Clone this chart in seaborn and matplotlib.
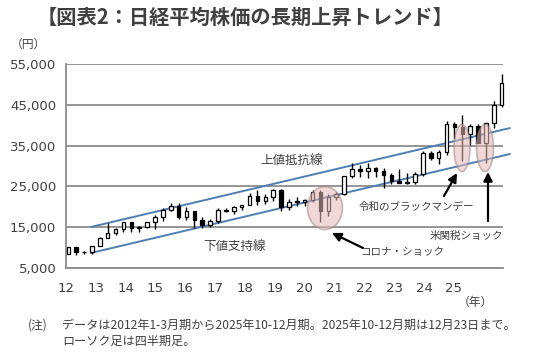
import matplotlib
matplotlib.use("Agg")
import matplotlib.pyplot as plt
from matplotlib.patches import Ellipse
import numpy as np
import pandas as pd
import seaborn as sns

# ---- data: quarterly Nikkei 225 candles, 2012Q1 .. 2025Q4 ----
quarters = [f"{y}Q{q}" for y in range(2012, 2026) for q in range(1, 5)]
opens = [8550, 10083, 9007, 8870, 10395, 12398, 13677, 14455,
         16291, 14828, 15162, 16174, 17451, 19207, 20236, 17388,
         19034, 16759, 15576, 16450, 19114, 18909, 20033, 20356,
         22765, 21454, 22305, 24120, 20015, 21206, 21276, 21756,
         23657, 18917, 22288, 23185, 27444, 29179, 28792, 29453,
         28792, 27821, 26393, 25937, 26095, 28041, 33189, 31858,
         33464, 40369, 39583, 37919, 39894, 35617, 40487, 44932]
highs = [10255, 10190, 9288, 10433, 12650, 15942, 14817, 16320,
         16320, 15376, 16374, 18030, 19778, 20952, 20946, 20012,
         19034, 17613, 17100, 19592, 19668, 20318, 20481, 23382,
         24129, 23050, 24448, 24448, 21860, 22362, 21823, 24091,
         24116, 23179, 23559, 27602, 30714, 30208, 30795, 29808,
         29388, 28338, 29222, 28383, 28623, 33772, 33753, 33853,
         41087, 40697, 42426, 40398, 40288, 40487, 45852, 52636]
lows = [8350, 8238, 8328, 8488, 10398, 12415, 13188, 13748,
        13885, 13885, 14720, 14529, 16592, 19034, 16901, 16884,
        14866, 14864, 14952, 16111, 18650, 18224, 19239, 20397,
        20347, 20617, 21462, 18948, 19241, 20110, 20110, 21276,
        16358, 17646, 21710, 22948, 27002, 27385, 26954, 27293,
        24681, 25520, 25935, 25621, 25661, 27427, 31450, 30487,
        32693, 36733, 31156, 35247, 35617, 30793, 39384, 44372]
closes = [10083, 9007, 8870, 10395, 12398, 13677, 14455, 16291,
          14828, 15162, 16174, 17451, 19207, 20236, 17388, 19034,
          16759, 15576, 16450, 19114, 18909, 20033, 20356, 22765,
          21454, 22305, 24120, 20015, 21206, 21276, 21756, 23657,
          18917, 22288, 23185, 27444, 29179, 28792, 29453, 28792,
          27821, 26393, 25937, 26095, 28041, 33189, 31858, 33464,
          40369, 39583, 37919, 39894, 35617, 40487, 44932, 50412]

year_labels = ["12", "13", "14", "15", "16", "17", "18", "19", "20",
               "21", "22", "23", "24", "25"]
y_ticks = [5000, 15000, 25000, 35000, 45000, 55000]

# trend channel lines (quarter index, price)
upper_line_x = [2.87, 56.04]
upper_line_y = [15050, 39300]
lower_line_x = [2.87, 56.04]
lower_line_y = [8680, 32940]

df = pd.DataFrame({"q": quarters, "open": opens, "high": highs,
                   "low": lows, "close": closes})
df["i"] = np.arange(len(df))

# ---- style ----
sns.set_theme(style="white")
plt.rcParams["font.family"] = ["DejaVu Sans", "Noto Sans CJK JP"]
JP = ["Noto Sans CJK JP", "DejaVu Sans"]
TXT = "#404040"
GRID = "#8c8c8c"

W, H = 550, 356
fig = plt.figure(figsize=(W / 100, H / 100), dpi=100)
fig.patch.set_facecolor("white")
ax_l, ax_r, ax_t, ax_b = 66, 503, 64, 268
ax = fig.add_axes([ax_l / W, 1 - ax_b / H, (ax_r - ax_l) / W, (ax_b - ax_t) / H])

pxu = (501.7 - 67.3) / 55.0
x0 = -(67.3 - ax_l) / pxu
x1 = 55 + (ax_r - 501.7) / pxu
ax.set_xlim(x0, x1)
ax.set_ylim(5000, 55000)

# grid
for yv in y_ticks:
    ax.axhline(yv, color=GRID, lw=1.3, zorder=0)

# trend lines via seaborn
tl = pd.DataFrame({"x": upper_line_x + lower_line_x,
                   "y": upper_line_y + lower_line_y,
                   "line": ["up", "up", "low", "low"]})
sns.lineplot(data=tl, x="x", y="y", units="line", estimator=None,
             color="#4f7eb3", lw=1.4, ax=ax, zorder=3, clip_on=False, legend=False)

# candles
bw = 0.45
for _, r in df.iterrows():
    up = r["close"] >= r["open"]
    ax.vlines(r["i"], r["low"], r["high"], color="black", lw=1.0, zorder=4, clip_on=False)
    bottom = min(r["open"], r["close"])
    h = max(abs(r["close"] - r["open"]), 150)
    ax.bar(r["i"], h, bottom=bottom, width=bw,
           color="white" if up else "black", edgecolor="black",
           linewidth=0.9, zorder=5, clip_on=False)

# ellipses (figure pixel coordinates)
def fpx(px, py):
    return (px, H - py)

for (cx, cy, ew, eh) in [(325, 208, 35, 43), (462, 148, 16, 47), (485, 148, 17, 47)]:
    e = Ellipse(fpx(cx, cy), ew, eh, transform=None,
                facecolor="#e3b9b6", edgecolor="#a08482", alpha=0.55, lw=1.2, zorder=6)
    fig.patches.append(e)

# axes styling
ax.set_yticks(y_ticks)
ax.set_yticklabels([f"{v:,}" for v in y_ticks], fontsize=9.5, color=TXT)
label_pos = [(65 + 29.9 * k - 67.3) / pxu for k in range(len(year_labels))]
ax.set_xticks(label_pos)
ax.set_xticklabels(year_labels, fontsize=9.5, color=TXT)
ax.tick_params(axis="x", which="major", length=0, pad=10)
ax.set_xticks([4 * k - 0.1 for k in range(1, 14)], minor=True)
ax.tick_params(axis="x", which="minor", length=4, width=1, color=GRID, direction="out")
ax.tick_params(axis="y", length=3, width=1, color=GRID, direction="out", pad=4)
for s in ["top", "right"]:
    ax.spines[s].set_visible(False)
for s in ["left", "bottom"]:
    ax.spines[s].set_color(GRID)
    ax.spines[s].set_linewidth(1.3)
ax.set_xlabel("")
ax.set_ylabel("")
ax.grid(False)

# texts
fig.text(245 / W, 1 - 17 / H, "【図表2：日経平均株価の長期上昇トレンド】", family=JP,
         fontsize=14.6, fontweight="bold", color=TXT, ha="center", va="center")
fig.text(28 / W, 1 - 44 / H, "（円）", family=JP, fontsize=8.5, color=TXT, ha="center", va="center")
fig.text(475 / W, 1 - 302 / H, "（年）", family=JP, fontsize=8.5, color=TXT, ha="center", va="center")
fig.text(292 / W, 1 - 160 / H, "上値抵抗線", family=JP, fontsize=9, color=TXT, ha="center", va="center")
fig.text(235 / W, 1 - 246 / H, "下値支持線", family=JP, fontsize=9, color=TXT, ha="center", va="center")
fig.text(48 / W, 1 - 325 / H, "(注)", family=JP, fontsize=8.5, color=TXT, ha="right", va="center")
fig.text(62 / W, 1 - 325 / H, "データは2012年1-3月期から2025年10-12月期。2025年10-12月期は12月23日まで。",
         family=JP, fontsize=8.7, color=TXT, ha="left", va="center")
fig.text(62 / W, 1 - 341 / H, "ローソク足は四半期足。", family=JP, fontsize=8.7, color=TXT,
         ha="left", va="center")

arrow = dict(arrowstyle="-|>", color="black", lw=1.6, mutation_scale=13, shrinkA=0, shrinkB=0)
ax.annotate("", xy=fpx(332, 233), xycoords="figure pixels",
            xytext=fpx(363, 248), textcoords="figure pixels", arrowprops=arrow, zorder=7)
fig.text(402 / W, 1 - 252 / H, "コロナ・ショック", family=JP, fontsize=7.6, color=TXT, ha="center", va="center")
ax.annotate("", xy=fpx(457, 173), xycoords="figure pixels",
            xytext=fpx(444, 196), textcoords="figure pixels", arrowprops=arrow, zorder=7)
fig.text(416 / W, 1 - 207 / H, "令和のブラックマンデー", family=JP, fontsize=7.6, color=TXT, ha="center", va="center")
ax.annotate("", xy=fpx(488, 172), xycoords="figure pixels",
            xytext=fpx(488, 221), textcoords="figure pixels", arrowprops=arrow, zorder=7)
fig.text(466 / W, 1 - 236 / H, "米関税ショック", family=JP, fontsize=7.6, color=TXT, ha="center", va="center")

fig.savefig("out.png", dpi=100, facecolor="white")
